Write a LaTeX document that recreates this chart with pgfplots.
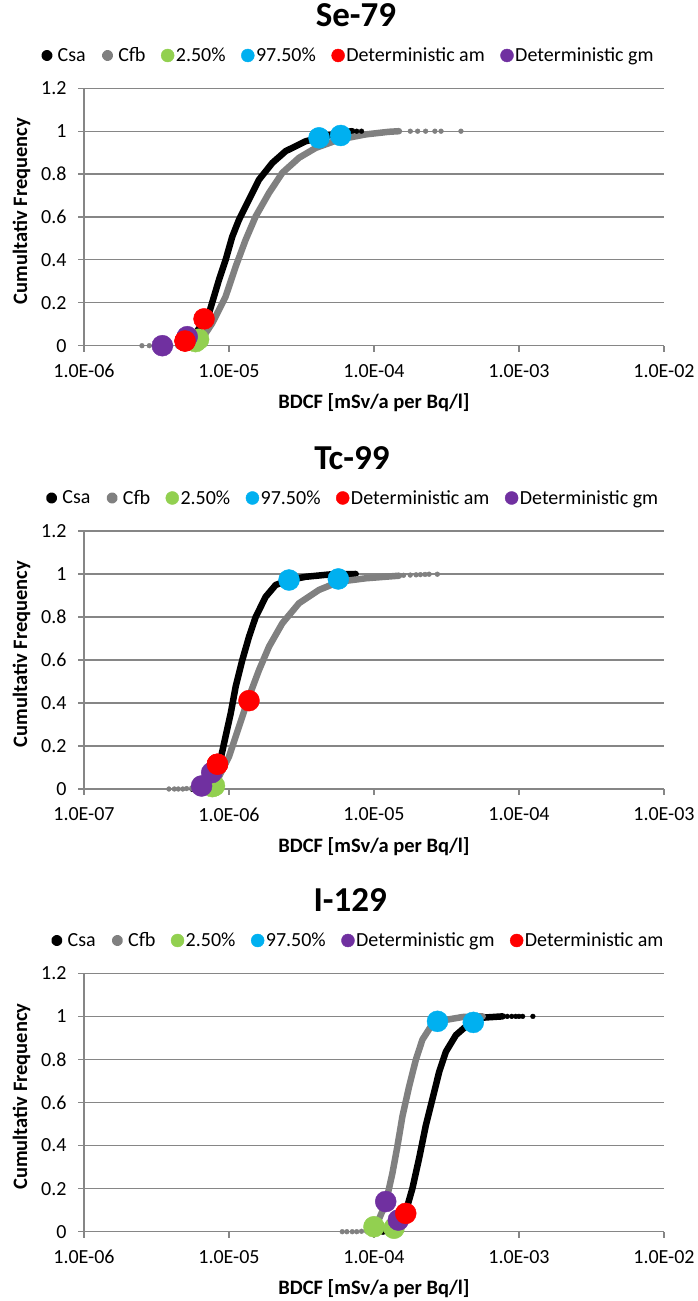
\documentclass[border=0pt]{standalone}
\usepackage{fontspec}
\setmainfont{Carlito}
\usepackage{pgfplots}
\pgfplotsset{compat=1.18}
\definecolor{gridc}{RGB}{134,134,134}
\definecolor{cfbc}{RGB}{128,128,128}
\definecolor{grn}{RGB}{146,208,80}
\definecolor{cyn}{RGB}{0,176,240}
\definecolor{rd}{RGB}{255,0,0}
\definecolor{prp}{RGB}{112,48,160}
\pgfplotsset{
 mybase/.style={
  scale only axis, width=580pt,
  xminorticks=false,
  ymin=0, ymax=1.2,
  ytick={0,0.2,0.4,0.6,0.8,1,1.2},
  yticklabels={0,0.2,0.4,0.6,0.8,1,1.2},
  axis x line*=bottom, axis y line*=left,
  axis line style={gridc, line width=1.2pt},
  every tick/.style={gridc, line width=1.2pt},
  major tick length=6pt, tick align=outside,
  ymajorgrids, major grid style={gridc, line width=1.2pt},
  tick label style={font=\fontsize{20}{24}\selectfont, text=black},
  xticklabel style={yshift=-9pt},
  yticklabel style={xshift=-8pt},
  /pgf/number format/assume math mode=true,
  title style={font=\bfseries\fontsize{35}{40}\selectfont, anchor=center},
  xlabel style={font=\bfseries\fontsize{20.5}{24}\selectfont, anchor=center},
  ylabel style={font=\bfseries\fontsize{20.5}{24}\selectfont, anchor=center},
  xlabel={BDCF [mSv/a per Bq/l]},
  ylabel={Cumultativ Frequency},
  legend columns=6,
  legend style={draw=none, fill=none, font=\fontsize{20}{24}\selectfont, anchor=center, inner sep=0pt,
     nodes={inner sep=1.5pt},
     /tikz/every even column/.append style={column sep=14pt}},
  legend cell align=left,
  clip=false,
 },
 smalldot/.style={legend image code/.code={\fill (3pt,0) circle (2.3pt); \path (0,0) (9pt,0);}},
 bigdot/.style={legend image code/.code={\fill (6.5pt,0) circle (6.5pt);}},
 curve/.style={line width=6.5pt, line join=round, line cap=round, smalldot},
 tail/.style={only marks, mark=*, mark size=2.4pt, forget plot},
 mk/.style={only marks, mark=*, mark size=10.5pt, mark options={draw=none}, bigdot},
}
\begin{document}
\begin{tikzpicture}
\path[use as bounding box] (0pt,0pt) rectangle (697pt,1301pt);

% ---------------- Se-79 ----------------
\begin{semilogxaxis}[mybase, at={(84pt,955.3pt)}, anchor=south west, height=257.4pt,
  xmin=1e-6, xmax=1e-2,
  xtick={1e-6,1e-5,1e-4,1e-3,1e-2},
  xticklabels={1.0E-06,1.0E-05,1.0E-04,1.0E-03,1.0E-02},
  title={Se-79}, title style={at={(axis description cs:0.469,1)}, yshift=67.3pt},
  legend style={at={(axis description cs:0.455,1)}, yshift=32.8pt},
  xlabel style={at={(axis description cs:0.5,0)}, yshift=-57.3pt},
  ylabel style={at={(axis description cs:-0.1078,0.523)}},
]
\addplot[black, curve] coordinates {
 (4.68e-6,0.0) (5.62e-6,0.03) (5.89e-6,0.058) (7.28e-6,0.151) (8.53e-6,0.307)
 (9.48e-6,0.40) (1.054e-5,0.509) (1.172e-5,0.587) (1.374e-5,0.681) (1.611e-5,0.774)
 (1.991e-5,0.852) (2.460e-5,0.907) (3.381e-5,0.953) (4.178e-5,0.969) (5.741e-5,0.992) (7.079e-5,1.0)};
\addlegendentry{Csa}
\addplot[cfbc, curve] coordinates {
 (4.47e-6,0.0) (6.21e-6,0.011) (7.67e-6,0.105) (9.48e-6,0.229) (1.112e-5,0.369)
 (1.303e-5,0.494) (1.528e-5,0.603) (1.888e-5,0.712) (2.333e-5,0.806) (3.041e-5,0.876)
 (3.963e-5,0.922) (5.741e-5,0.961) (8.77e-5,0.985) (1.259e-4,0.997) (1.486e-4,1.0)};
\addlegendentry{Cfb}
\addplot[cfbc, tail] coordinates {(2.51e-6,0) (2.82e-6,0) (3.16e-6,0) (3.55e-6,0) (3.98e-6,0)
 (1.78e-4,1) (2.0e-4,1) (2.27e-4,1) (2.63e-4,1) (2.9e-4,1) (3.98e-4,1)};
\addplot[black, tail] coordinates {(7.6e-5,1) (8.2e-5,1)};
\addplot[grn, mk] coordinates {(5.89e-6,0.019) (6.17e-6,0.03)};
\addlegendentry{2.50\%}
\addplot[cyn, mk] coordinates {(4.178e-5,0.969) (5.888e-5,0.98)};
\addlegendentry{97.50\%}
\addplot[rd, mk] coordinates {(6.73e-6,0.125) (4.98e-6,0.022)};
\addlegendentry{Deterministic am}
\addplot[prp, mk] coordinates {(3.47e-6,0.0) (5.15e-6,0.042)};
\addlegendentry{Deterministic gm}
\addplot[rd, mk, forget plot] coordinates {(4.98e-6,0.022)};
\end{semilogxaxis}

% ---------------- Tc-99 ----------------
\begin{semilogxaxis}[mybase, at={(84pt,512pt)}, anchor=south west, height=258pt,
  xmin=1e-7, xmax=1e-3,
  xtick={1e-7,1e-6,1e-5,1e-4,1e-3},
  xticklabels={1.0E-07,1.0E-06,1.0E-05,1.0E-04,1.0E-03},
  title={Tc-99}, title style={at={(axis description cs:0.462,1)}, yshift=67pt},
  legend style={at={(axis description cs:0.463,1)}, yshift=33pt},
  xlabel style={at={(axis description cs:0.5,0)}, yshift=-57.3pt},
  ylabel style={at={(axis description cs:-0.1078,0.523)}},
]
\addplot[black, curve] coordinates {
 (5.62e-7,0.0) (6.21e-7,0.011) (7.28e-7,0.042) (8.53e-7,0.104) (9.25e-7,0.213)
 (1.028e-6,0.352) (1.112e-6,0.476) (1.236e-6,0.60) (1.374e-6,0.708) (1.528e-6,0.80)
 (1.791e-6,0.894) (2.099e-6,0.949) (2.594e-6,0.972) (3.381e-6,0.987) (5.152e-6,0.999) (7.48e-6,1.0)};
\addlegendentry{Csa}
\addplot[cfbc, curve] coordinates {
 (5.58e-7,0.003) (7.08e-7,0.02) (8.53e-7,0.057) (1.0e-6,0.150) (1.172e-6,0.290)
 (1.374e-6,0.429) (1.611e-6,0.553) (1.888e-6,0.662) (2.333e-6,0.771) (3.041e-6,0.864)
 (4.178e-6,0.926) (5.741e-6,0.964) (8.77e-6,0.98) (1.486e-5,0.992)};
\addlegendentry{Cfb}
\addplot[cfbc, tail] coordinates {(3.855e-7,0) (4.2e-7,0) (4.47e-7,0) (4.8e-7,0) (5.1e-7,0.002)
 (1.6e-5,0.994) (1.778e-5,0.995) (1.95e-5,0.996) (2.09e-5,0.997) (2.25e-5,0.998) (2.40e-5,0.999) (2.735e-5,0.999)};
\addplot[grn, mk] coordinates {(7.67e-7,0.011) (7.94e-7,0.015)};
\addlegendentry{2.50\%}
\addplot[cyn, mk] coordinates {(2.594e-6,0.972) (5.675e-6,0.977)};
\addlegendentry{97.50\%}
\addplot[rd, mk] coordinates {(1.374e-6,0.411) (8.32e-7,0.115)};
\addlegendentry{Deterministic am}
\addplot[prp, mk] coordinates {(6.47e-7,0.014) (7.60e-7,0.076)};
\addlegendentry{Deterministic gm}
\addplot[rd, mk, forget plot] coordinates {(8.32e-7,0.115)};
\end{semilogxaxis}

% ---------------- I-129 ----------------
\begin{semilogxaxis}[mybase, at={(84pt,69.3pt)}, anchor=south west, height=258.4pt,
  xmin=1e-6, xmax=1e-2,
  xtick={1e-6,1e-5,1e-4,1e-3,1e-2},
  xticklabels={1.0E-06,1.0E-05,1.0E-04,1.0E-03,1.0E-02},
  title={I-129}, title style={at={(axis description cs:0.459,1)}, yshift=67.3pt},
  legend style={at={(axis description cs:0.472,1)}, yshift=32.8pt},
  xlabel style={at={(axis description cs:0.5,0)}, yshift=-57.3pt},
  ylabel style={at={(axis description cs:-0.1078,0.523)}},
]
\addplot[black, curve] coordinates {
 (1.140e-4,0.0) (1.413e-4,0.02) (1.656e-4,0.093) (1.841e-4,0.201) (2.046e-4,0.340)
 (2.280e-4,0.495) (2.535e-4,0.619) (2.818e-4,0.743) (3.133e-4,0.836) (3.673e-4,0.913)
 (4.539e-4,0.967) (5.623e-4,0.994) (7.73e-4,1.0)};
\addlegendentry{Csa}
\addplot[cfbc, curve] coordinates {
 (8.91e-5,0.005) (1.028e-4,0.023) (1.205e-4,0.132) (1.340e-4,0.272) (1.449e-4,0.395)
 (1.570e-4,0.535) (1.746e-4,0.674) (1.945e-4,0.799) (2.158e-4,0.892) (2.466e-4,0.953)
 (2.742e-4,0.977) (4.083e-4,0.997) (5.62e-4,1.0)};
\addlegendentry{Cfb}
\addplot[cfbc, tail] coordinates {(6.04e-5,0) (6.5e-5,0) (7.08e-5,0) (7.6e-5,0) (8.2e-5,0.002)};
\addplot[black, tail] coordinates {(8.3e-4,1) (8.91e-4,1) (9.5e-4,1) (1.0e-3,1) (1.06e-3,1) (1.247e-3,1)};
\addplot[grn, mk] coordinates {(1.0e-4,0.023) (1.374e-4,0.016)};
\addlegendentry{2.50\%}
\addplot[cyn, mk] coordinates {(2.742e-4,0.977) (4.842e-4,0.972)};
\addlegendentry{97.50\%}
\addplot[prp, mk] coordinates {(1.205e-4,0.14) (1.472e-4,0.054)};
\addlegendentry{Deterministic gm}
\addplot[rd, mk] coordinates {(1.656e-4,0.085)};
\addlegendentry{Deterministic am}
\end{semilogxaxis}
\end{tikzpicture}
\end{document}
